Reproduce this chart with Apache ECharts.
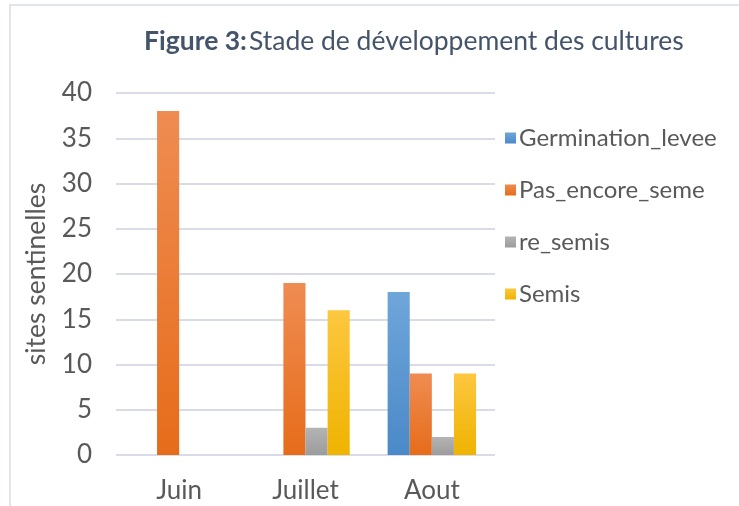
<!DOCTYPE html>
<html>
<head>
<meta charset="utf-8">
<script src="https://cdn.jsdelivr.net/npm/echarts@6/dist/echarts.min.js"></script>
<style>
  html, body { margin: 0; padding: 0; background: #fff; }
  #chart { width: 739px; height: 506px; }
</style>
</head>
<body>
<div id="chart"></div>
<script>
// données
const categories = ['Juin', 'Juillet', 'Aout'];
const seriesNames = ['Germination_levee', 'Pas_encore_seme', 're_semis', 'Semis'];
const germination = [0, 0, 18];
const pasEncoreSeme = [38, 19, 9];
const reSemis = [0, 3, 2];
const semis = [0, 16, 9];

// couleurs (haut clair, bas foncé)
const colors = [
  ['#6fa6da', '#4a89c8'],
  ['#ef8c52', '#e66c1a'],
  ['#b4b4b4', '#9c9c9c'],
  ['#fdc740', '#efb300']
];

const textColor = '#595959';
const chart = echarts.init(document.getElementById('chart'));

function makeSeries(name, data, idx) {
  return {
    name: name,
    type: 'bar',
    data: data,
    barGap: '0%',
    barCategoryGap: '30%',
    itemStyle: {
      color: new echarts.graphic.LinearGradient(0, 0, 0, 1, [
        { offset: 0, color: colors[idx][0] },
        { offset: 1, color: colors[idx][1] }
      ])
    }
  };
}

const option = {
  backgroundColor: '#fff',
  textStyle: { fontFamily: 'Lato' },
  title: {
    text: '{b|Figure 3:}{r|Stade de développement des cultures}',
    left: 139,
    top: 23,
    textStyle: {
      rich: {
        b: { fontFamily: 'Lato', fontWeight: 'bold', fontSize: 26.5, color: '#44546a' },
        r: { fontFamily: 'Lato', fontWeight: 'normal', fontSize: 26.5, color: '#44546a', padding: [0, 0, 0, 2] }
      }
    }
  },
  legend: {
    orient: 'vertical',
    left: 500,
    top: 121,
    itemWidth: 11,
    itemHeight: 11,
    itemGap: 28,
    icon: 'rect',
    data: seriesNames,
    textStyle: { fontFamily: 'Lato', fontSize: 24, color: textColor, padding: [0, 0, 0, -2] }
  },
  grid: { left: 116, right: 244, top: 93, bottom: 51 },
  xAxis: {
    type: 'category',
    data: categories,
    axisLine: { show: false },
    axisTick: { show: false },
    axisLabel: { fontFamily: 'Lato', fontSize: 26, color: textColor, margin: 23 }
  },
  yAxis: {
    type: 'value',
    min: 0,
    max: 40,
    interval: 5,
    name: 'sites sentinelles',
    nameLocation: 'middle',
    nameGap: 66,
    nameTextStyle: { fontFamily: 'Lato', fontSize: 26.5, color: textColor },
    axisLine: { show: false },
    axisTick: { show: false },
    axisLabel: { fontFamily: 'Lato', fontSize: 26, color: textColor, margin: 24 },
    splitLine: { lineStyle: { color: '#d9dce6', width: 2 } }
  },
  graphic: [{
    type: 'rect',
    shape: { x: 10, y: 5, width: 740, height: 520 },
    style: { fill: 'none', stroke: '#e3e5ec', lineWidth: 2 },
    silent: true
  }],
  series: [
    makeSeries(seriesNames[0], germination, 0),
    makeSeries(seriesNames[1], pasEncoreSeme, 1),
    makeSeries(seriesNames[2], reSemis, 2),
    makeSeries(seriesNames[3], semis, 3)
  ]
};

chart.setOption(option);
</script>
</body>
</html>
